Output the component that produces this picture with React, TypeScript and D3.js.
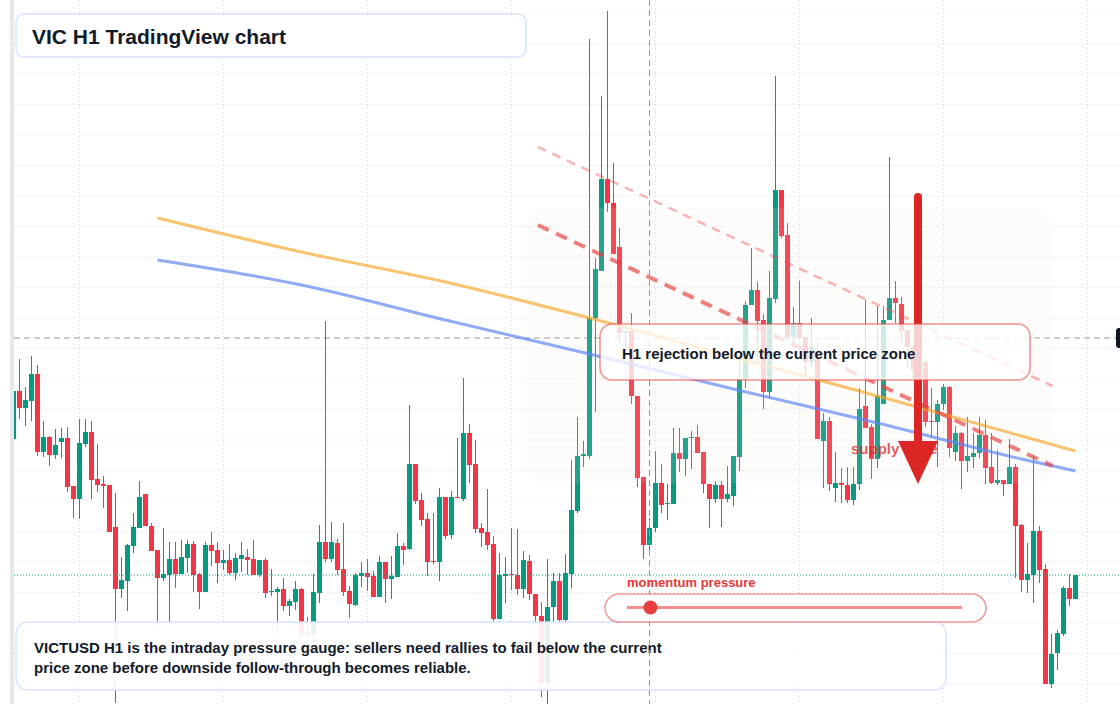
import * as d3 from 'd3';

const W = 1120;
const H = 704;

// VICTUSD H1 candles, oldest first
const opens = [
  0.465, 0.513, 0.496, 0.503, 0.53, 0.452, 0.467, 0.449, 0.462, 0.466,
  0.418, 0.405, 0.46, 0.472, 0.425, 0.42, 0.419, 0.377, 0.315, 0.323,
  0.358, 0.376, 0.41, 0.378, 0.354, 0.326, 0.329, 0.345, 0.33, 0.346,
  0.36, 0.33, 0.312, 0.359, 0.354, 0.341, 0.344, 0.331, 0.345, 0.347,
  0.345, 0.329, 0.344, 0.312, 0.312, 0.315, 0.298, 0.302, 0.315, 0.272,
  0.269, 0.311, 0.362, 0.345, 0.361, 0.335, 0.313, 0.299, 0.328, 0.331,
  0.328, 0.307, 0.342, 0.325, 0.327, 0.358, 0.355, 0.44, 0.404, 0.385,
  0.343, 0.342, 0.407, 0.369, 0.407, 0.405, 0.471, 0.44, 0.376, 0.372,
  0.36, 0.285, 0.328, 0.33, 0.329, 0.315, 0.343, 0.31, 0.288, 0.221,
  0.297, 0.323, 0.284, 0.33, 0.393, 0.448, 0.448, 0.586, 0.633, 0.725,
  0.701, 0.657, 0.571, 0.573, 0.508, 0.427, 0.359, 0.376, 0.421, 0.4,
  0.4, 0.451, 0.445, 0.466, 0.467, 0.452, 0.42, 0.405, 0.419, 0.405,
  0.408, 0.447, 0.525, 0.599, 0.614, 0.584, 0.512, 0.605, 0.714, 0.669,
  0.567, 0.581, 0.567, 0.542, 0.545, 0.463, 0.483, 0.416, 0.421, 0.419,
  0.404, 0.42, 0.498, 0.477, 0.445, 0.5, 0.584, 0.606, 0.6, 0.574,
  0.557, 0.534, 0.542, 0.483, 0.482, 0.5, 0.517, 0.452, 0.471, 0.443,
  0.447, 0.451, 0.469, 0.437, 0.421, 0.424, 0.42, 0.437, 0.379, 0.324,
  0.329, 0.373, 0.335, 0.22, 0.251, 0.27, 0.316, 0.305,
];
const highs = [
  0.513, 0.545, 0.517, 0.548, 0.539, 0.483, 0.468, 0.475, 0.476, 0.477,
  0.418, 0.485, 0.485, 0.483, 0.46, 0.428, 0.419, 0.411, 0.347, 0.36,
  0.391, 0.423, 0.41, 0.381, 0.354, 0.376, 0.362, 0.362, 0.364, 0.364,
  0.363, 0.331, 0.362, 0.372, 0.362, 0.354, 0.36, 0.351, 0.362, 0.355,
  0.364, 0.344, 0.346, 0.335, 0.317, 0.326, 0.305, 0.323, 0.316, 0.287,
  0.33, 0.379, 0.583, 0.382, 0.365, 0.381, 0.318, 0.331, 0.342, 0.345,
  0.333, 0.348, 0.342, 0.348, 0.371, 0.361, 0.499, 0.44, 0.411, 0.391,
  0.391, 0.416, 0.407, 0.413, 0.466, 0.526, 0.48, 0.464, 0.381, 0.415,
  0.368, 0.351, 0.347, 0.376, 0.375, 0.353, 0.349, 0.31, 0.302, 0.345,
  0.331, 0.331, 0.35, 0.444, 0.487, 0.463, 0.865, 0.646, 0.808, 0.893,
  0.741, 0.676, 0.573, 0.591, 0.508, 0.427, 0.386, 0.453, 0.44, 0.42,
  0.476, 0.476, 0.466, 0.473, 0.479, 0.452, 0.42, 0.423, 0.423, 0.438,
  0.448, 0.546, 0.603, 0.656, 0.622, 0.59, 0.633, 0.828, 0.714, 0.681,
  0.597, 0.623, 0.567, 0.586, 0.561, 0.491, 0.487, 0.452, 0.436, 0.437,
  0.437, 0.516, 0.604, 0.48, 0.598, 0.598, 0.747, 0.623, 0.607, 0.574,
  0.559, 0.544, 0.546, 0.516, 0.504, 0.52, 0.518, 0.478, 0.472, 0.487,
  0.471, 0.487, 0.484, 0.471, 0.454, 0.424, 0.465, 0.44, 0.38, 0.361,
  0.449, 0.378, 0.34, 0.27, 0.274, 0.318, 0.33, 0.329,
];
const lows = [
  0.465, 0.485, 0.478, 0.483, 0.448, 0.447, 0.438, 0.445, 0.446, 0.412,
  0.386, 0.385, 0.457, 0.405, 0.412, 0.396, 0.372, 0.201, 0.306, 0.293,
  0.351, 0.376, 0.378, 0.353, 0.276, 0.323, 0.281, 0.316, 0.33, 0.331,
  0.312, 0.295, 0.312, 0.338, 0.321, 0.334, 0.329, 0.324, 0.332, 0.329,
  0.329, 0.327, 0.306, 0.308, 0.269, 0.293, 0.288, 0.294, 0.267, 0.267,
  0.261, 0.301, 0.342, 0.342, 0.329, 0.308, 0.286, 0.298, 0.317, 0.313,
  0.307, 0.307, 0.301, 0.305, 0.327, 0.339, 0.354, 0.4, 0.378, 0.328,
  0.34, 0.323, 0.365, 0.365, 0.406, 0.403, 0.421, 0.371, 0.357, 0.354,
  0.281, 0.285, 0.301, 0.314, 0.309, 0.306, 0.304, 0.282, 0.207, 0.2,
  0.282, 0.28, 0.28, 0.316, 0.391, 0.437, 0.445, 0.492, 0.633, 0.692,
  0.65, 0.563, 0.549, 0.5, 0.417, 0.345, 0.354, 0.372, 0.391, 0.384,
  0.4, 0.432, 0.428, 0.435, 0.451, 0.411, 0.376, 0.401, 0.377, 0.402,
  0.398, 0.433, 0.516, 0.599, 0.542, 0.495, 0.506, 0.601, 0.666, 0.565,
  0.557, 0.564, 0.527, 0.537, 0.465, 0.416, 0.413, 0.402, 0.401, 0.401,
  0.399, 0.414, 0.476, 0.425, 0.436, 0.5, 0.584, 0.581, 0.561, 0.537,
  0.524, 0.516, 0.477, 0.466, 0.437, 0.494, 0.447, 0.443, 0.415, 0.432,
  0.436, 0.446, 0.42, 0.42, 0.419, 0.408, 0.42, 0.326, 0.312, 0.311,
  0.301, 0.321, 0.22, 0.216, 0.234, 0.268, 0.298, 0.305,
];
const closes = [
  0.513, 0.496, 0.504, 0.53, 0.452, 0.467, 0.449, 0.459, 0.466, 0.417,
  0.405, 0.461, 0.472, 0.424, 0.419, 0.418, 0.372, 0.315, 0.324, 0.359,
  0.377, 0.407, 0.378, 0.353, 0.326, 0.33, 0.345, 0.33, 0.347, 0.36,
  0.329, 0.312, 0.359, 0.353, 0.341, 0.344, 0.331, 0.346, 0.349, 0.344,
  0.329, 0.344, 0.311, 0.313, 0.315, 0.298, 0.303, 0.315, 0.271, 0.269,
  0.312, 0.362, 0.345, 0.362, 0.334, 0.312, 0.3, 0.329, 0.331, 0.327,
  0.307, 0.342, 0.325, 0.328, 0.358, 0.354, 0.44, 0.403, 0.384, 0.342,
  0.342, 0.407, 0.368, 0.407, 0.406, 0.471, 0.439, 0.375, 0.371, 0.359,
  0.285, 0.329, 0.33, 0.329, 0.315, 0.344, 0.31, 0.288, 0.221, 0.297,
  0.323, 0.284, 0.331, 0.394, 0.448, 0.45, 0.586, 0.635, 0.725, 0.701,
  0.65, 0.571, 0.573, 0.508, 0.426, 0.359, 0.376, 0.421, 0.399, 0.401,
  0.451, 0.445, 0.466, 0.467, 0.451, 0.42, 0.405, 0.419, 0.405, 0.41,
  0.448, 0.525, 0.599, 0.614, 0.583, 0.512, 0.606, 0.714, 0.668, 0.567,
  0.581, 0.566, 0.542, 0.557, 0.465, 0.483, 0.42, 0.421, 0.419, 0.404,
  0.42, 0.495, 0.476, 0.445, 0.508, 0.584, 0.606, 0.601, 0.573, 0.557,
  0.534, 0.542, 0.482, 0.482, 0.5, 0.517, 0.456, 0.471, 0.443, 0.448,
  0.451, 0.469, 0.436, 0.421, 0.424, 0.42, 0.437, 0.378, 0.324, 0.33,
  0.373, 0.334, 0.22, 0.25, 0.271, 0.316, 0.305, 0.329,
];

// moving averages, sampled at these bar indices
const maIndex = [24, 48, 72, 96, 120, 144, 168, 177];
const maSlow = [0.686, 0.652, 0.622, 0.586, 0.547, 0.508, 0.468, 0.453];
const maFast = [0.644, 0.619, 0.584, 0.55, 0.515, 0.481, 0.445, 0.433];

// descending resistance lines: [bar index, price]
const trendOuter: [number, number][] = [[87.4, 0.757], [173.2, 0.518]];
const trendInner: [number, number][] = [[87.4, 0.679], [173.2, 0.438]];

const zoneFrom = 85.6;
const zoneTo = 173.1;
const zoneTop = 0.696;
const zoneBottom = 0.421;

const crossPrice = 0.566;
const crossBar = 106;
const arrowBar = 150.75;
const arrowStart = 0.707;
const arrowHeadBase = 0.463;
const arrowTip = 0.42;
const momentum = 0.07;

const GREEN = '#089981';
const RED = '#f23645';
const FONT = '"Liberation Sans", Arial, Helvetica, sans-serif';
const INK = '#131a2a';

export default function App() {
  const x = d3.scaleLinear().domain([0, 177]).range([13.5, 1075.5]);
  const y = d3.scaleLinear().domain([0.2, 0.904]).range([H, 0]);

  const candles = d3.range(opens.length).map((i) => ({
    i,
    o: opens[i],
    h: highs[i],
    l: lows[i],
    c: closes[i],
  }));

  const gridPrices = d3.range(0.22, 0.9, 0.0305);
  const gridBars = d3.range(11, 190, 24);

  const maLine = d3
    .line<number>()
    .x((_, k) => x(maIndex[k]))
    .y((d) => y(d))
    .curve(d3.curveMonotoneX);

  const trendLine = d3
    .line<[number, number]>()
    .x((d) => x(d[0]))
    .y((d) => y(d[1]));

  const lastY = y(closes[closes.length - 1]);
  const ax = x(arrowBar);
  const gauge = d3.scaleLinear().domain([0, 1]).range([627, 962]);

  return (
    <svg
      width={W}
      height={H}
      viewBox={`0 0 ${W} ${H}`}
      style={{ position: 'absolute', left: 0, top: 0, display: 'block', background: '#fff' }}
    >
      <defs>
        <clipPath id="plot">
          <rect x={14} y={0} width={W - 14} height={H} />
        </clipPath>
      </defs>
      <rect width={W} height={H} fill="#fff" />

      {/* grid */}
      <g clipPath="url(#plot)" stroke="#d3d6dc" strokeWidth={1} strokeDasharray="1 3">
        {gridPrices.map((p) => (
          <line key={'h' + p} x1={14} x2={W} y1={y(p)} y2={y(p)} />
        ))}
        {gridBars.map((b) => (
          <line key={'v' + b} x1={x(b)} x2={x(b)} y1={0} y2={H} />
        ))}
      </g>

      {/* crosshair price line */}
      <line x1={14} x2={1116} y1={y(crossPrice)} y2={y(crossPrice)} stroke="#9598a1" strokeDasharray="6 4" />

      {/* candles */}
      <g clipPath="url(#plot)">
        {candles.map((d) => {
          const up = d.c >= d.o;
          const col = up ? GREEN : RED;
          const top = y(Math.max(d.o, d.c));
          const bot = y(Math.min(d.o, d.c));
          return (
            <g key={d.i}>
              <line x1={x(d.i)} x2={x(d.i)} y1={y(d.h)} y2={y(d.l)} stroke={col} strokeWidth={1} />
              <rect x={x(d.i) - 2.5} y={top} width={5} height={Math.max(1, bot - top)} fill={col} />
            </g>
          );
        })}
      </g>

      {/* supply zone wash */}
      <rect
        x={x(zoneFrom)}
        y={y(zoneTop)}
        width={x(zoneTo) - x(zoneFrom)}
        height={y(zoneBottom) - y(zoneTop)}
        rx={16}
        fill="rgb(246,234,226)"
        fillOpacity={0.12}
      />

      {/* moving averages */}
      <path d={maLine(maSlow) || ''} fill="none" stroke="rgba(245,165,35,0.65)" strokeWidth={3} />
      <path d={maLine(maFast) || ''} fill="none" stroke="rgba(96,135,245,0.7)" strokeWidth={3} />

      {/* trendlines */}
      <path d={trendLine(trendOuter) || ''} fill="none" stroke="rgba(239,68,68,0.4)" strokeWidth={2.5} strokeDasharray="9 7" />
      <path d={trendLine(trendInner) || ''} fill="none" stroke="rgba(231,60,60,0.65)" strokeWidth={4} strokeDasharray="12 8" />

      {/* last price */}
      <line x1={14} x2={W} y1={lastY} y2={lastY} stroke={GREEN} strokeWidth={1} strokeDasharray="1 2" />

      <text x={851} y={454} fontFamily={FONT} fontWeight={700} fontSize={15} fill="rgba(220,38,38,0.75)">
        supply zone
      </text>

      {/* bearish arrow */}
      <line x1={ax} x2={ax} y1={y(arrowStart)} y2={y(arrowHeadBase) + 2} stroke="#dc2626" strokeWidth={8} strokeLinecap="round" />
      <path
        d={`M${ax - 20},${y(arrowHeadBase)} L${ax + 20},${y(arrowHeadBase)} L${ax},${y(arrowTip)} Z`}
        fill="#dc2626"
      />

      {/* bottom note */}
      <rect x={16} y={622} width={930} height={68} rx={12} fill="#fff" fillOpacity={0.9} stroke="#d8e4fa" strokeWidth={1.5} />
      <text fontFamily={FONT} fontWeight={700} fontSize={15} fill={INK}>
        <tspan x={34} y={653}>
          VICTUSD H1 is the intraday pressure gauge: sellers need rallies to fail below the current
        </tspan>
        <tspan x={34} y={673}>
          price zone before downside follow-through becomes reliable.
        </tspan>
      </text>

      {/* crosshair time line */}
      <line x1={x(crossBar)} x2={x(crossBar)} y1={0} y2={H} stroke="#9598a1" strokeDasharray="6 4" />

      {/* rejection callout */}
      <rect x={600} y={324} width={430} height={56} rx={12} fill="#fff" fillOpacity={0.78} stroke="rgba(239,68,68,0.6)" strokeWidth={1.5} />
      <text x={622} y={359} fontFamily={FONT} fontWeight={700} fontSize={15} fill={INK}>
        H1 rejection below the current price zone
      </text>

      {/* momentum gauge */}
      <text x={627} y={587} fontFamily={FONT} fontWeight={700} fontSize={13} fill="#e5383b">
        momentum pressure
      </text>
      <rect x={605} y={594} width={381} height={28} rx={14} fill="#fff" fillOpacity={0.85} stroke="rgba(239,68,68,0.55)" strokeWidth={1.5} />
      <line x1={gauge(0)} x2={gauge(1)} y1={607.5} y2={607.5} stroke="rgba(239,68,68,0.6)" strokeWidth={3} />
      <circle cx={gauge(momentum)} cy={607.5} r={7} fill="#e53e3e" />

      {/* title */}
      <rect x={16} y={14} width={510} height={43} rx={8} fill="#fff" stroke="#d8e4fa" strokeWidth={1.5} />
      <text x={32} y={43.5} fontFamily={FONT} fontWeight={700} fontSize={21} fill={INK}>
        VIC H1 TradingView chart
      </text>

      {/* chart frame bits */}
      <rect x={10} y={0} width={4} height={H} fill="#e8e8e8" />
      <rect x={1116} y={328} width={12} height={20} rx={3} fill="#131722" />
    </svg>
  );
}
